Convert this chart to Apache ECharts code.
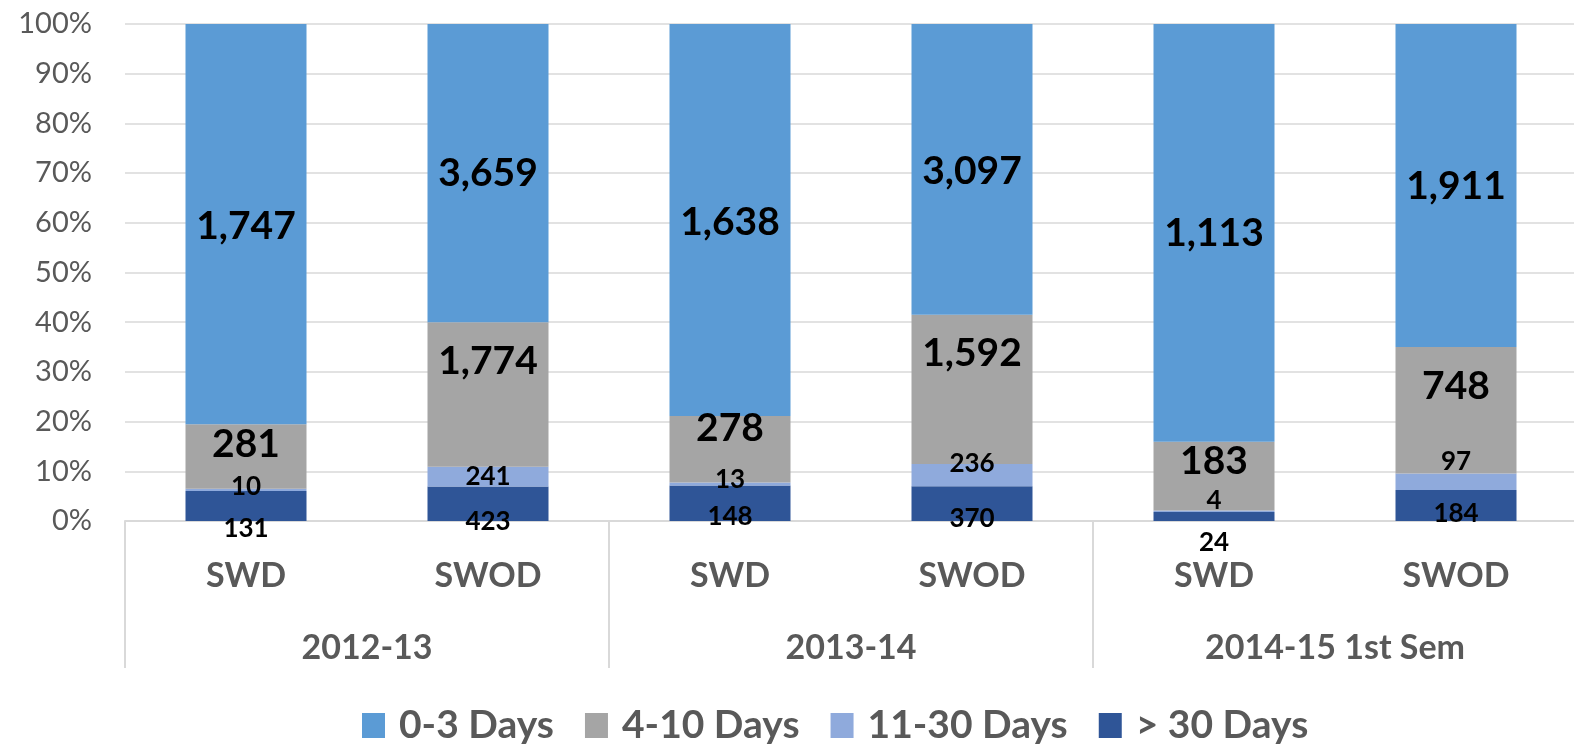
<!DOCTYPE html>
<html>
<head>
<meta charset="utf-8">
<script src="https://cdn.jsdelivr.net/npm/echarts@6/dist/echarts.min.js"></script>
<style>
  html, body { margin: 0; padding: 0; background: #fff; overflow: hidden; }
  /* a few px wider than the window so the closing group tick falls off screen */
  #chart { width: 1580px; height: 751px; }
</style>
</head>
<body>
<div id="chart"></div>
<script>
// 数据
var categories = ['SWD', 'SWOD', 'SWD', 'SWOD', 'SWD', 'SWOD']
var groups = ['2012-13', '2013-14', '2014-15 1st Sem']
var days0to3 = [1747, 3659, 1638, 3097, 1113, 1911]
var days4to10 = [281, 1774, 278, 1592, 183, 748]
var days11to30 = [10, 241, 13, 236, 4, 97]
var daysOver30 = [131, 423, 148, 370, 24, 184]

// label nudges (px, vertical) so labels sit like in the original
var nudge0to3 = [2, 0, 2, 2, 1, 1]
var nudge4to10 = [-12, -33, -21, -36, -15, -24]
var nudge11to30 = [-3, 0, -4, -12, -11, -20]
var nudgeOver30 = [23, 18, 13, 15, 26, 8]

var FONT = 'Lato, "Open Sans", sans-serif'
var GREY = '#595959'

function draw_chart() {
  var totals = categories.map(function (c, i) {
    return days0to3[i] + days4to10[i] + days11to30[i] + daysOver30[i]
  })

  function makeSeries(name, counts, nudge, color, big) {
    return {
      name: name,
      type: 'bar',
      stack: 'all',
      barWidth: '50%',
      itemStyle: { color: color },
      label: {
        show: true,
        position: 'inside',
        color: '#000',
        fontFamily: FONT,
        fontWeight: 'bold',
        fontSize: big ? 39 : 26,
        formatter: function (p) {
          return counts[p.dataIndex].toLocaleString('en-US')
        }
      },
      data: counts.map(function (v, i) {
        return { value: v / totals[i] * 100, label: { offset: [0, nudge[i]] } }
      })
    }
  }

  var dom = document.getElementById('chart')
  var myChart = echarts.init(dom, null, { renderer: 'canvas' })

  var option = {
    animation: false,
    grid: { left: 125, right: 3, top: 24, bottom: 230 },
    legend: {
      data: ['0-3 Days', '4-10 Days', '11-30 Days', '> 30 Days'],
      top: 701,
      left: 357,
      icon: 'rect',
      itemWidth: 23,
      itemHeight: 25,
      itemGap: 31,
      textStyle: {
        fontFamily: FONT, fontWeight: 'bold', fontSize: 39, color: GREY,
        padding: [0, 0, 0, 9]
      }
    },
    xAxis: [
      {
        type: 'category',
        data: categories,
        axisLine: { lineStyle: { color: '#D9D9D9', width: 2 } },
        axisTick: { show: false },
        axisLabel: {
          interval: 0,
          margin: 38,
          fontFamily: FONT,
          fontWeight: 'bold',
          fontSize: 34,
          color: GREY
        }
      },
      {
        type: 'category',
        data: groups,
        position: 'bottom',
        axisLine: { show: false },
        axisTick: { show: true, interval: 0, length: 147, lineStyle: { color: '#D9D9D9', width: 2 } },
        axisLabel: {
          interval: 0,
          margin: 110,
          fontFamily: FONT,
          fontWeight: 'bold',
          fontSize: 34,
          color: GREY
        }
      }
    ],
    yAxis: {
      type: 'value',
      min: 0,
      max: 100,
      interval: 10,
      axisLine: { show: false },
      axisTick: { show: false },
      splitLine: { lineStyle: { color: '#D9D9D9', width: 1.5 } },
      axisLabel: {
        margin: 33,
        formatter: '{value}%',
        fontFamily: FONT,
        fontSize: 29,
        color: GREY
      }
    },
    series: [
      makeSeries('> 30 Days', daysOver30, nudgeOver30, '#2F5597', false),
      makeSeries('11-30 Days', days11to30, nudge11to30, '#8FAADC', false),
      makeSeries('4-10 Days', days4to10, nudge4to10, '#A5A5A5', true),
      makeSeries('0-3 Days', days0to3, nudge0to3, '#5B9BD5', true)
    ]
  }

  myChart.setOption(option)
  window.addEventListener('resize', myChart.resize)
}

draw_chart()
</script>
</body>
</html>
